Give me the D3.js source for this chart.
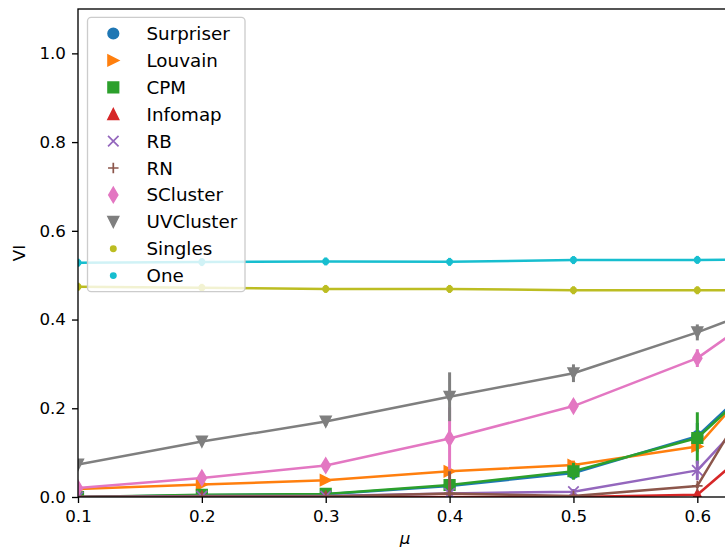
<!DOCTYPE html>
<html>
<head>
<meta charset="utf-8">
<script src="https://cdn.jsdelivr.net/npm/d3@7"></script>
<style>
  body { margin: 0; background: #fff; }
  svg { display: block; font-family: "DejaVu Sans", sans-serif; }
</style>
</head>
<body>
<div class="svg-wrapper"></div>
<script>
// mixing parameter values (the figure is cut just past 0.6)
const mu = [0.1, 0.2, 0.3, 0.4, 0.5, 0.6, 0.7];

// mean VI per method, and the spread drawn as error bars
const surpriser    = [0.000, 0.004, 0.006, 0.025, 0.054, 0.137, 0.400];
const surpriserErr = [0.000, 0.002, 0.003, 0.010, 0.012, 0.030, 0.050];
const louvain      = [0.018, 0.028, 0.038, 0.058, 0.072, 0.114, 0.430];
const louvainErr   = [0.003, 0.005, 0.006, 0.008, 0.010, 0.013, 0.030];
const cpm          = [0.000, 0.005, 0.007, 0.027, 0.058, 0.133, 0.390];
const cpmErr       = [0.000, 0.003, 0.004, 0.012, 0.019, 0.058, 0.050];
const infomap      = [0.000, 0.000, 0.000, 0.000, 0.000, 0.005, 0.245];
const infomapErr   = [0.000, 0.000, 0.000, 0.000, 0.000, 0.003, 0.030];
const rb           = [0.000, 0.002, 0.002, 0.008, 0.012, 0.060, 0.360];
const rbErr        = [0.000, 0.002, 0.002, 0.020, 0.006, 0.022, 0.040];
const rn           = [0.000, 0.001, 0.001, 0.008, 0.002, 0.025, 0.490];
const rnErr        = [0.000, 0.000, 0.000, 0.050, 0.002, 0.005, 0.040];
const scluster     = [0.020, 0.043, 0.071, 0.132, 0.205, 0.313, 0.510];
const sclusterErr  = [0.004, 0.008, 0.010, 0.070, 0.015, 0.020, 0.030];
const uvcluster    = [0.073, 0.125, 0.170, 0.226, 0.279, 0.371, 0.477];
const uvclusterErr = [0.005, 0.008, 0.010, 0.055, 0.020, 0.018, 0.020];
const singles      = [0.474, 0.4715, 0.469, 0.469, 0.466, 0.466, 0.466];
const singlesErr   = [0.009, 0.009, 0.009, 0.009, 0.009, 0.009, 0.009];
const one          = [0.528, 0.5295, 0.531, 0.530, 0.534, 0.5345, 0.535];
const oneErr       = [0.009, 0.009, 0.009, 0.009, 0.009, 0.009, 0.009];

const xTicks = [0.1, 0.2, 0.3, 0.4, 0.5, 0.6];
const yTicks = [0.0, 0.2, 0.4, 0.6, 0.8, 1.0];

const series = [
  {name: "Surpriser", color: "#1f77b4", marker: "o", values: surpriser, errs: surpriserErr},
  {name: "Louvain",   color: "#ff7f0e", marker: ">", values: louvain,   errs: louvainErr},
  {name: "CPM",       color: "#2ca02c", marker: "s", values: cpm,       errs: cpmErr},
  {name: "Infomap",   color: "#d62728", marker: "^", values: infomap,   errs: infomapErr},
  {name: "RB",        color: "#9467bd", marker: "x", values: rb,        errs: rbErr},
  {name: "RN",        color: "#8c564b", marker: "+", values: rn,        errs: rnErr},
  {name: "SCluster",  color: "#e377c2", marker: "d", values: scluster,  errs: sclusterErr},
  {name: "UVCluster", color: "#7f7f7f", marker: "v", values: uvcluster, errs: uvclusterErr},
  {name: "Singles",   color: "#bcbd22", marker: ".", values: singles,   errs: singlesErr},
  {name: "One",       color: "#17becf", marker: ".", values: one,       errs: oneErr}
];

const width = 725, height = 554;
const fontSize = 16.7;
const legendFontSize = 18.3;
const markerSize = 10.5;

const svg = d3.select(".svg-wrapper")
  .append("svg")
  .attr("width", width)
  .attr("height", height);

// right edge of the axes sits a few px past the cropped picture
const margin = {top: 9, right: -7, bottom: 57, left: 78};
const innerWidth = width - margin.left - margin.right;
const innerHeight = height - margin.top - margin.bottom;

const xScale = d3.scaleLinear().domain([0.1, 0.628]).range([0, innerWidth]);
const yScale = d3.scaleLinear().domain([0, 1.1]).range([innerHeight, 0]);

// matplotlib-like marker shapes, s = marker size in px
function markerPath(type, s){
  const h = s / 2;
  switch(type){
    case "o": return `M${h},0A${h},${h} 0 1,1 ${-h},0A${h},${h} 0 1,1 ${h},0Z`;
    case ".": { const r = s / 4; return `M${r},0A${r},${r} 0 1,1 ${-r},0A${r},${r} 0 1,1 ${r},0Z`; }
    case ">": return `M${h},0L${-h},${-h}L${-h},${h}Z`;
    case "s": return `M${-h},${-h}H${h}V${h}H${-h}Z`;
    case "^": return `M0,${-h}L${h},${h}L${-h},${h}Z`;
    case "v": return `M0,${h}L${h},${-h}L${-h},${-h}Z`;
    case "x": return `M${-h},${-h}L${h},${h}M${-h},${h}L${h},${-h}`;
    case "+": return `M${-h},0H${h}M0,${-h}V${h}`;
    case "d": { const dy = s * Math.SQRT2 / 2, dx = 0.6 * dy; return `M0,${-dy}L${dx},0L0,${dy}L${-dx},0Z`; }
  }
}
const openMarker = m => (m === "x" || m === "+");

const g = svg.append("g")
  .attr("transform", `translate(${margin.left},${margin.top})`);

g.append("clipPath").attr("id", "plot-clip")
  .append("rect")
  .attr("width", innerWidth)
  .attr("height", innerHeight);

const plot = g.append("g").attr("clip-path", "url(#plot-clip)");

const lineGenerator = d3.line()
  .x(d => xScale(d.x))
  .y(d => yScale(d.y));

series.forEach(function(s){
  const pts = mu.map((m, i) => ({x: m, y: s.values[i], e: s.errs[i]}));
  const wrap = plot.append("g").attr("class", "series");

  wrap.selectAll("line.err")
    .data(pts.filter(d => d.e > 0))
    .enter().append("line")
      .attr("class", "err")
      .attr("x1", d => xScale(d.x))
      .attr("x2", d => xScale(d.x))
      .attr("y1", d => yScale(d.y - d.e))
      .attr("y2", d => yScale(d.y + d.e))
      .attr("stroke", s.color)
      .attr("stroke-width", 3);

  wrap.append("path")
    .attr("d", lineGenerator(pts))
    .attr("fill", "none")
    .attr("stroke", s.color)
    .attr("stroke-width", 2.5)
    .attr("stroke-linejoin", "round");

  wrap.selectAll("path.mk")
    .data(pts)
    .enter().append("path")
      .attr("class", "mk")
      .attr("transform", d => `translate(${xScale(d.x)},${yScale(d.y)})`)
      .attr("d", markerPath(s.marker, markerSize))
      .attr("fill", openMarker(s.marker) ? "none" : s.color)
      .attr("stroke", s.color)
      .attr("stroke-width", 1.7);
});

// axes
const xAxis = d3.axisBottom(xScale)
  .tickValues(xTicks)
  .tickFormat(d3.format(".1f"))
  .tickSize(6)
  .tickPadding(6);

const yAxis = d3.axisLeft(yScale)
  .tickValues(yTicks)
  .tickFormat(d3.format(".1f"))
  .tickSize(6)
  .tickPadding(6);

const xAxisG = g.append("g")
  .attr("transform", `translate(0,${innerHeight})`)
  .call(xAxis);
const yAxisG = g.append("g").call(yAxis);

[xAxisG, yAxisG].forEach(function(ax){
  ax.attr("font-size", null).attr("font-family", null);
  ax.selectAll(".domain").remove();
  ax.selectAll(".tick line").attr("stroke", "#000").attr("stroke-width", 1.33);
  ax.selectAll(".tick text")
    .attr("fill", "#000")
    .style("font-size", fontSize + "px")
    .style("font-family", "DejaVu Sans");
});
xAxisG.selectAll(".tick text").attr("dy", "0.78em");

// spines
g.append("rect")
  .attr("width", innerWidth)
  .attr("height", innerHeight)
  .attr("fill", "none")
  .attr("stroke", "#000")
  .attr("stroke-width", 1.33);

// axis labels
g.append("text")
  .attr("transform", `translate(-53,${innerHeight / 2}) rotate(-90)`)
  .attr("text-anchor", "middle")
  .style("font-size", fontSize + "px")
  .text("VI");

g.append("text")
  .attr("x", 327)
  .attr("y", innerHeight + 47)
  .attr("text-anchor", "middle")
  .style("font-size", fontSize + "px")
  .style("font-style", "italic")
  .text("\u03bc");

// legend
const legend = svg.append("g").attr("class", "legend");
legend.append("rect")
  .attr("x", 87.5)
  .attr("y", 17.3)
  .attr("width", 157.5)
  .attr("height", 274.4)
  .attr("rx", 3.6)
  .attr("fill", "#fff")
  .attr("fill-opacity", 0.8)
  .attr("stroke", "#cccccc")
  .attr("stroke-width", 1.33);

const rowY = i => 33.5 + i * 26.9;

const items = legend.selectAll("g.item")
  .data(series)
  .enter().append("g")
    .attr("class", "item")
    .attr("transform", (d, i) => `translate(0,${rowY(i)})`);

items.append("path")
  .attr("transform", "translate(113.3,0)")
  .attr("d", d => markerPath(d.marker, markerSize))
  .attr("fill", d => openMarker(d.marker) ? "none" : d.color)
  .attr("stroke", d => d.color)
  .attr("stroke-width", 1.7);

items.append("text")
  .attr("x", 146.5)
  .attr("dy", "0.36em")
  .style("font-size", legendFontSize + "px")
  .text(d => d.name);
</script>
</body>
</html>
